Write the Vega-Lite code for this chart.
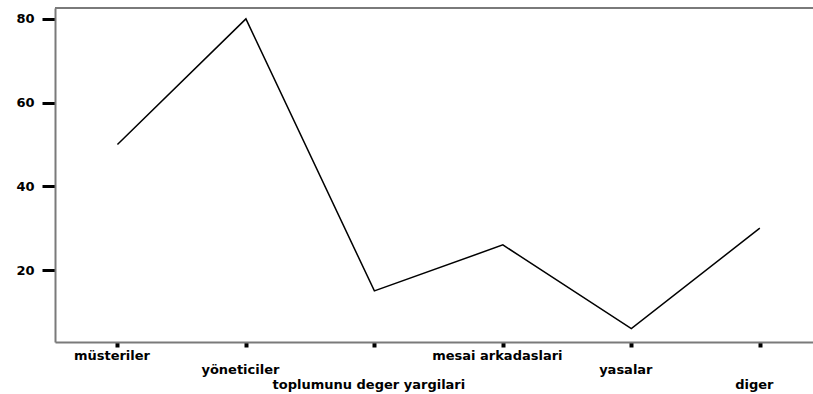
{
  "$schema": "https://vega.github.io/schema/vega-lite/v6.json",
  "autosize": "none",
  "width": 758,
  "height": 334,
  "padding": {"left": 55, "top": 8, "right": 0, "bottom": 52},
  "background": "white",
  "config": {
    "view": {"stroke": null},
    "font": "DejaVu Sans",
    "axis": {"grid": false, "labelColor": "black", "labelFont": "DejaVu Sans", "labelFontSize": 13, "labelFontWeight": "bold", "labelLimit": 0, "domainColor": "#7a7a7a", "domainWidth": 2, "tickColor": "black"}
  },
  "data": {
    "values": [
      {"kategori": "müsteriler", "deger": 50},
      {"kategori": "yöneticiler", "deger": 80},
      {"kategori": "toplumunu deger yargilari", "deger": 15},
      {"kategori": "mesai arkadaslari", "deger": 26},
      {"kategori": "yasalar", "deger": 6},
      {"kategori": "diger", "deger": 30}
    ]
  },
  "layer": [
    {
      "mark": {"type": "line", "color": "black", "strokeWidth": 1.5},
      "encoding": {
        "x": {
          "field": "kategori",
          "type": "nominal",
          "sort": null,
          "scale": {"type": "point", "padding": 0.45, "align": 0.54},
          "axis": {
            "title": null,
            "labelAngle": 0,
            "tickSize": 5,
            "tickWidth": 4,
            "labelPadding": 2,
            "labelBaseline": "top",
            "labelLineHeight": 14.5,
            "labelOffset": -6,
            "labelOverlap": false,
            "labelExpr": "indexof(['müsteriler','yöneticiler','toplumunu deger yargilari','mesai arkadaslari','yasalar','diger'], datum.value) % 3 == 0 ? datum.label : (indexof(['müsteriler','yöneticiler','toplumunu deger yargilari','mesai arkadaslari','yasalar','diger'], datum.value) % 3 == 1 ? ['\u200b', datum.label] : ['\u200b', '\u200b', datum.label])"
          }
        },
        "y": {
          "field": "deger",
          "type": "quantitative",
          "scale": {"domain": [2.8, 82.6], "nice": false, "zero": false},
          "axis": {"title": null, "values": [20, 40, 60, 80], "tickSize": 13, "tickWidth": 3, "labelPadding": 8}
        }
      }
    },
    {
      "mark": {"type": "rule", "color": "#7a7a7a", "strokeWidth": 2},
      "encoding": {"y": {"datum": 82.6}}
    }
  ]
}
